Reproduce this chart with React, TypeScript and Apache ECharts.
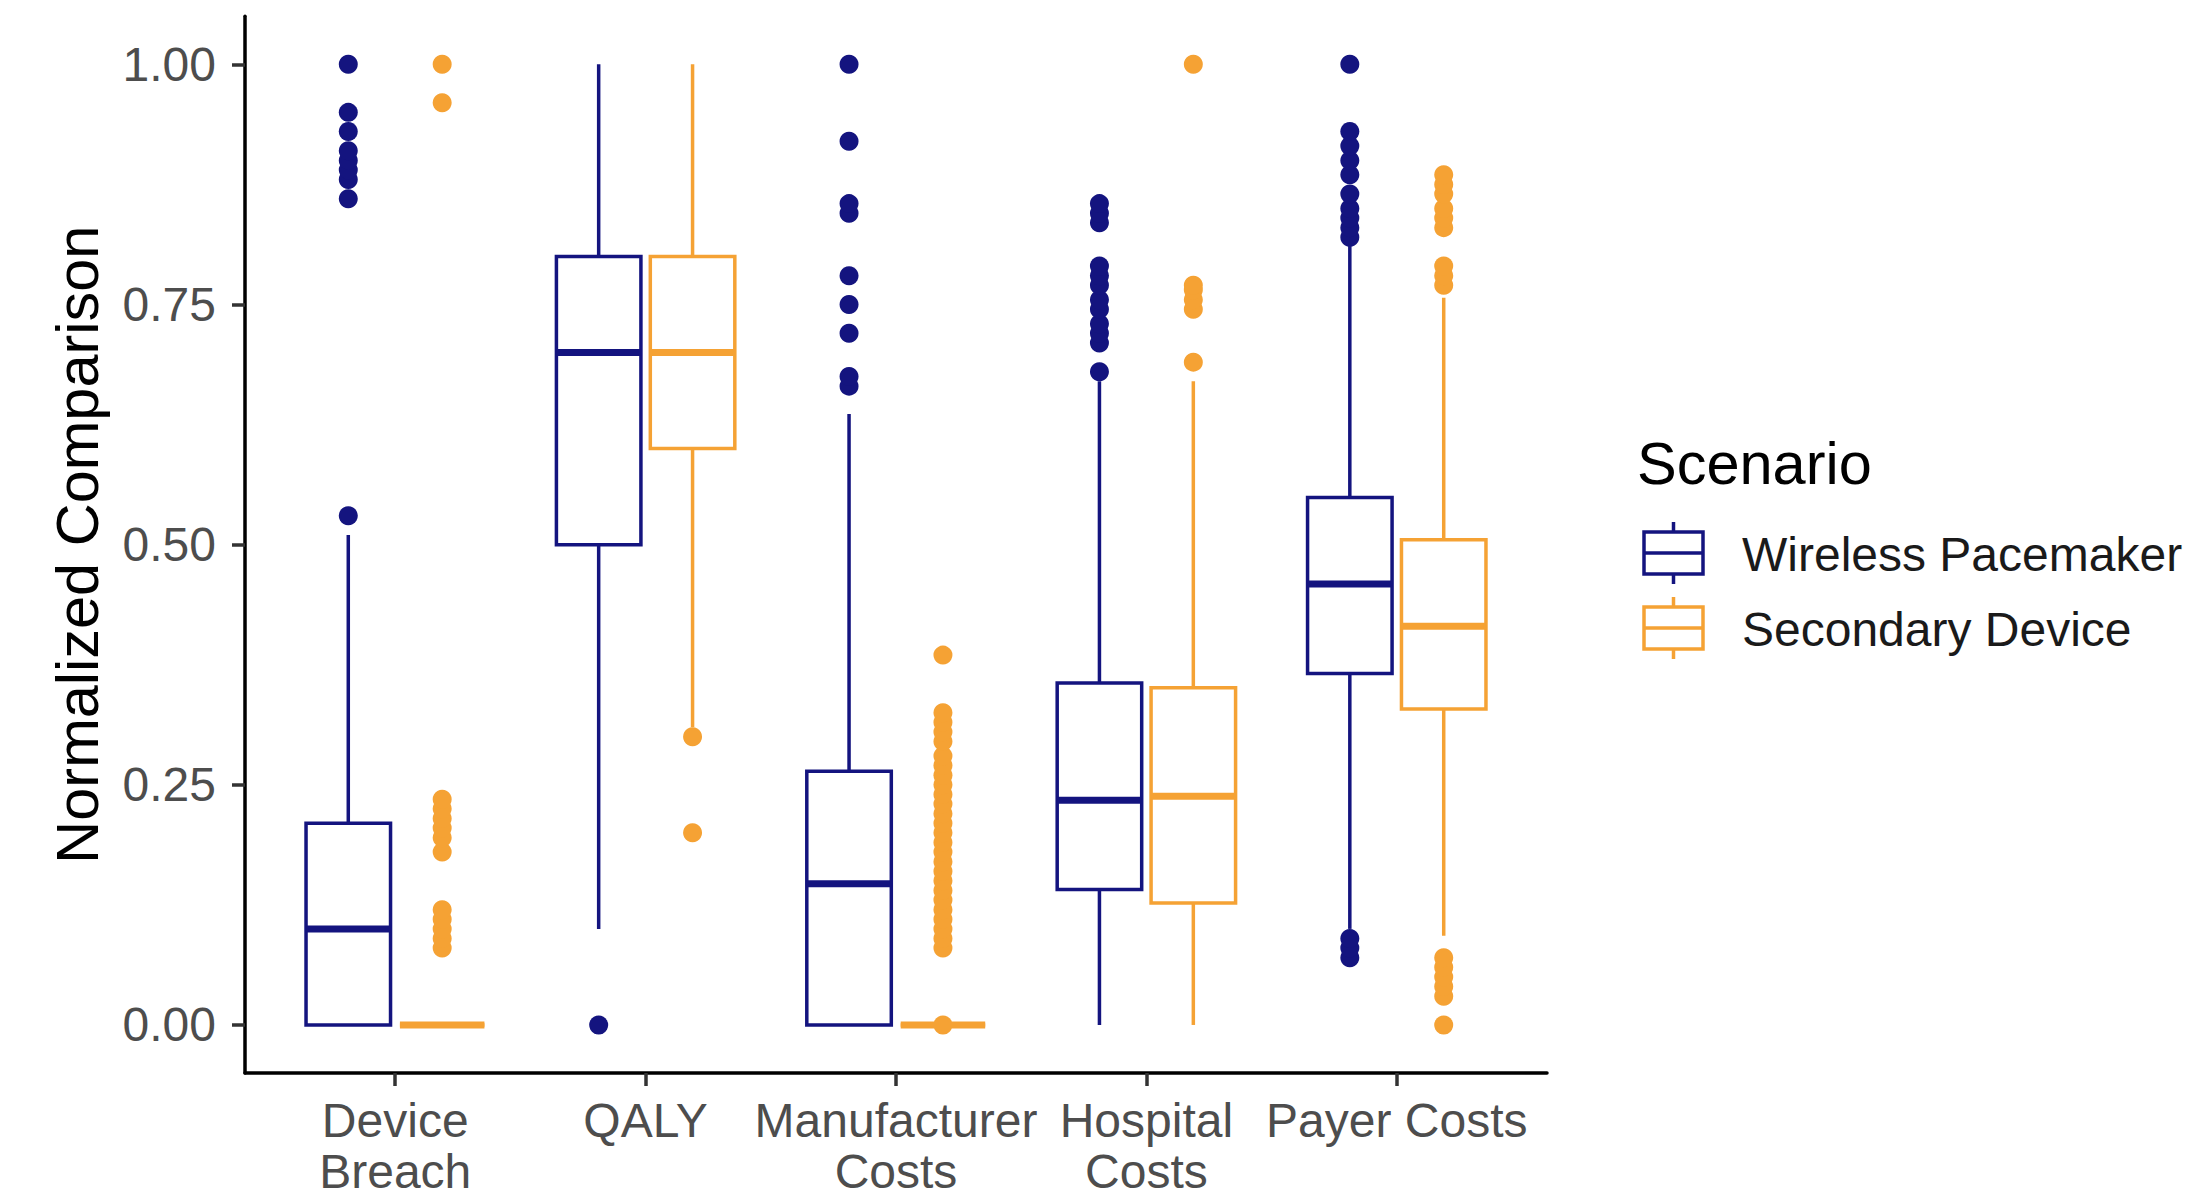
import React, { useEffect, useRef } from "react";
import * as echarts from "echarts";

// Categories along the x axis (1..5 on a continuous scale)
const categories = ["Device\nBreach", "QALY", "Manufacturer\nCosts", "Hospital\nCosts", "Payer Costs"];
const scenarios = ["Wireless Pacemaker", "Secondary Device"];
const scenarioColors = ["#14147f", "#f5a234"];
const yTicks = [0, 0.25, 0.5, 0.75, 1];
const xTicks = [1, 2, 3, 4, 5];

// Box statistics per category: [lower whisker, Q1, median, Q3, upper whisker]
const pacemakerStats = [
  [0, 0, 0.1, 0.21, 0.51],
  [0.1, 0.5, 0.7, 0.8, 1.0],
  [0, 0, 0.147, 0.264, 0.636],
  [0, 0.141, 0.234, 0.356, 0.67],
  [0.1, 0.366, 0.459, 0.549, 0.813],
];
const secondaryStats = [
  [0, 0, 0, 0, 0],
  [0.31, 0.6, 0.7, 0.8, 1.0],
  [0, 0, 0, 0, 0],
  [0, 0.127, 0.238, 0.351, 0.67],
  [0.093, 0.329, 0.415, 0.505, 0.757],
];

// Outlying observations per category
const pacemakerOutliers = [
  [0.53, 0.86, 0.88, 0.89, 0.9, 0.91, 0.93, 0.95, 1.0],
  [0],
  [0.665, 0.675, 0.72, 0.75, 0.78, 0.845, 0.855, 0.92, 1.0],
  [0.68, 0.71, 0.72, 0.73, 0.745, 0.755, 0.77, 0.78, 0.79, 0.835, 0.845, 0.855],
  [0.07, 0.08, 0.09, 0.82, 0.83, 0.84, 0.85, 0.865, 0.885, 0.9, 0.915, 0.93, 1.0],
];
const secondaryOutliers = [
  [0.08, 0.09, 0.1, 0.11, 0.12, 0.18, 0.195, 0.205, 0.215, 0.225, 0.235, 0.96, 1.0],
  [0.2, 0.3],
  [
    0, 0.08, 0.09, 0.1, 0.11, 0.12, 0.13, 0.14, 0.15, 0.16, 0.17, 0.18, 0.19, 0.2, 0.21,
    0.22, 0.23, 0.24, 0.25, 0.26, 0.27, 0.28, 0.295, 0.305, 0.315, 0.325, 0.385,
  ],
  [0.69, 0.745, 0.755, 0.765, 0.77, 1.0],
  [0, 0.03, 0.04, 0.05, 0.06, 0.07, 0.77, 0.78, 0.79, 0.83, 0.84, 0.85, 0.865, 0.875, 0.885],
];

const FONT = "'Liberation Sans', Arial, Helvetica, sans-serif";
const AXIS_TEXT = 48;
const TITLE_TEXT = 59.5;
const DODGE = 0.1875; // centre offset of each scenario within a category
const HALF_BOX = 0.16875; // half box width in category units
const LINE_W = 3.5;

function boxSeries(name: string, color: string, stats: number[][], offset: number) {
  return {
    type: "custom",
    name,
    z: 3,
    data: stats.map((s, i) => [i + 1 + offset, ...s]),
    encode: { x: 0, y: [1, 2, 3, 4, 5] },
    renderItem: (_params: any, api: any) => {
      const x = api.value(0);
      const lo = api.value(1);
      const q1 = api.value(2);
      const med = api.value(3);
      const q3 = api.value(4);
      const hi = api.value(5);
      const [xl, yq3] = api.coord([x - HALF_BOX, q3]);
      const [xr, yq1] = api.coord([x + HALF_BOX, q1]);
      const [xc, ylo] = api.coord([x, lo]);
      const yhi = api.coord([x, hi])[1];
      const ymed = api.coord([x, med])[1];
      return {
        type: "group",
        children: [
          { type: "line", shape: { x1: xc, y1: yhi, x2: xc, y2: yq3 }, style: { stroke: color, lineWidth: LINE_W } },
          { type: "line", shape: { x1: xc, y1: yq1, x2: xc, y2: ylo }, style: { stroke: color, lineWidth: LINE_W } },
          {
            type: "rect",
            shape: { x: xl, y: yq3, width: xr - xl, height: yq1 - yq3 },
            style: { fill: "#ffffff", stroke: color, lineWidth: LINE_W },
          },
          { type: "line", shape: { x1: xl, y1: ymed, x2: xr, y2: ymed }, style: { stroke: color, lineWidth: 7 } },
        ],
      };
    },
  };
}

function outlierSeries(name: string, color: string, outliers: number[][], offset: number) {
  return {
    type: "scatter",
    name,
    z: 2,
    symbol: "circle",
    symbolSize: 19,
    itemStyle: { color, opacity: 1 },
    data: outliers.flatMap((vals, i) => vals.map((v) => [i + 1 + offset, v])),
  };
}

function legendKey(color: string, top: number) {
  const left = 1644;
  const w = 59;
  const cx = left + w / 2;
  const boxTop = top + 10;
  const boxBottom = top + 52;
  const mid = (boxTop + boxBottom) / 2;
  return {
    type: "group",
    children: [
      { type: "line", shape: { x1: cx, y1: top, x2: cx, y2: boxTop }, style: { stroke: color, lineWidth: LINE_W } },
      { type: "line", shape: { x1: cx, y1: boxBottom, x2: cx, y2: boxBottom + 10 }, style: { stroke: color, lineWidth: LINE_W } },
      {
        type: "rect",
        shape: { x: left, y: boxTop, width: w, height: boxBottom - boxTop },
        style: { fill: "#ffffff", stroke: color, lineWidth: LINE_W },
      },
      { type: "line", shape: { x1: left, y1: mid, x2: left + w, y2: mid }, style: { stroke: color, lineWidth: LINE_W } },
    ],
  };
}

export default function App() {
  const ref = useRef<HTMLDivElement>(null);

  useEffect(() => {
    if (!ref.current) return;
    const chart = echarts.init(ref.current, undefined, { renderer: "svg" });
    chart.setOption({
      animation: false,
      backgroundColor: "#ffffff",
      grid: { left: 245, top: 16.3, width: 1302, height: 1061 },
      xAxis: {
        type: "value",
        min: 0.4,
        max: 5.6,
        splitLine: { show: false },
        axisLine: { show: true, onZero: false, lineStyle: { color: "#000000", width: LINE_W } },
        axisTick: { show: true, customValues: xTicks, length: 13, lineStyle: { color: "#333333", width: LINE_W } },
        axisLabel: {
          customValues: xTicks,
          formatter: (v: number) => categories[Math.round(v) - 1] ?? "",
          fontSize: AXIS_TEXT,
          lineHeight: 51,
          color: "#4d4d4d",
          fontFamily: FONT,
          margin: 22,
        },
      },
      yAxis: {
        type: "value",
        min: -0.05,
        max: 1.05,
        splitLine: { show: false },
        axisLine: { show: true, onZero: false, lineStyle: { color: "#000000", width: LINE_W } },
        axisTick: { show: true, customValues: yTicks, length: 13, lineStyle: { color: "#333333", width: LINE_W } },
        axisLabel: {
          customValues: yTicks,
          formatter: (v: number) => Number(v).toFixed(2),
          fontSize: AXIS_TEXT,
          color: "#4d4d4d",
          fontFamily: FONT,
          margin: 29,
        },
        name: "Normalized Comparison",
        nameLocation: "middle",
        nameGap: 138,
        nameTextStyle: { fontSize: TITLE_TEXT, color: "#000000", fontFamily: FONT },
      },
      series: [
        outlierSeries(scenarios[0], scenarioColors[0], pacemakerOutliers, -DODGE),
        outlierSeries(scenarios[1], scenarioColors[1], secondaryOutliers, DODGE),
        boxSeries(scenarios[0], scenarioColors[0], pacemakerStats, -DODGE),
        boxSeries(scenarios[1], scenarioColors[1], secondaryStats, DODGE),
      ],
      graphic: [
        {
          type: "text",
          x: 1637,
          y: 463,
          style: { text: "Scenario", fontSize: TITLE_TEXT, fontFamily: FONT, fill: "#000000", align: "left", verticalAlign: "middle" },
        },
        legendKey(scenarioColors[0], 522),
        legendKey(scenarioColors[1], 597),
        {
          type: "text",
          x: 1742,
          y: 554,
          style: { text: scenarios[0], fontSize: AXIS_TEXT, fontFamily: FONT, fill: "#1a1a1a", align: "left", verticalAlign: "middle" },
        },
        {
          type: "text",
          x: 1742,
          y: 629,
          style: { text: scenarios[1], fontSize: AXIS_TEXT, fontFamily: FONT, fill: "#1a1a1a", align: "left", verticalAlign: "middle" },
        },
      ],
    });
    return () => chart.dispose();
  }, []);

  return (
    <div
      ref={ref}
      style={{ position: "fixed", left: 0, top: 0, width: 2198, height: 1197, background: "#ffffff" }}
    />
  );
}
